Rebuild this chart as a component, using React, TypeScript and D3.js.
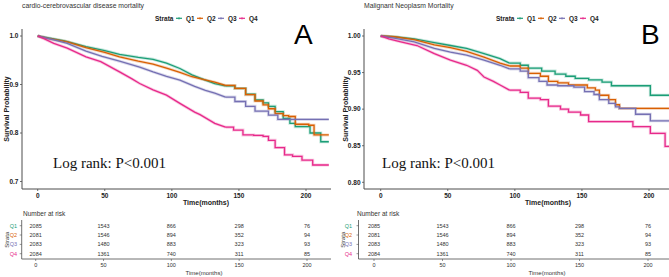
import React from "react";
import * as d3 from "d3";

const strata = ["Q1", "Q2", "Q3", "Q4"];
const colors = ["#1B9E77", "#D95F02", "#7570B3", "#E7298A"];

// Panel A: cardio-cerebrovascular disease mortality
const aQ1t = [0, 8, 20, 36, 50, 61, 75, 86, 96, 106, 115, 124, 132, 140, 147, 155, 162, 168, 172, 177, 183, 188, 192, 203, 211, 217];
const aQ1s = [1, 0.996, 0.99, 0.978, 0.97, 0.962, 0.956, 0.952, 0.944, 0.933, 0.92, 0.91, 0.902, 0.897, 0.892, 0.88, 0.868, 0.862, 0.855, 0.844, 0.83, 0.82, 0.813, 0.8, 0.782, 0.782];
const aQ2t = [0, 8, 22, 36, 50, 61, 75, 86, 96, 106, 115, 124, 132, 140, 147, 155, 162, 168, 172, 177, 183, 187, 192, 202, 206, 217];
const aQ2s = [1, 0.995, 0.988, 0.976, 0.966, 0.957, 0.948, 0.942, 0.934, 0.925, 0.916, 0.91, 0.905, 0.898, 0.892, 0.879, 0.866, 0.858, 0.85, 0.84, 0.836, 0.834, 0.818, 0.816, 0.796, 0.796];
const aQ3t = [0, 12, 22, 36, 48, 61, 76, 86, 96, 106, 117, 125, 132, 140, 147, 155, 162, 172, 179, 217];
const aQ3s = [1, 0.992, 0.985, 0.969, 0.958, 0.948, 0.936, 0.926, 0.917, 0.909, 0.896, 0.888, 0.882, 0.874, 0.865, 0.855, 0.845, 0.837, 0.828, 0.828];
const aQ4t = [0, 5, 12, 22, 36, 47, 61, 70, 76, 86, 96, 106, 117, 121, 132, 140, 146, 153, 161, 168, 172, 177, 184, 190, 197, 205, 217];
const aQ4s = [1, 0.994, 0.985, 0.975, 0.957, 0.947, 0.926, 0.912, 0.902, 0.889, 0.878, 0.861, 0.843, 0.838, 0.82, 0.812, 0.806, 0.796, 0.795, 0.793, 0.785, 0.77, 0.755, 0.752, 0.744, 0.734, 0.734];

// Panel B: Malignant Neoplasm Mortality
const bQ1t = [0, 10, 25, 40, 52, 64, 77, 89, 96, 104, 110, 120, 130, 138, 145, 155, 165, 172, 190, 201, 217];
const bQ1s = [1, 0.999, 0.996, 0.991, 0.987, 0.983, 0.976, 0.969, 0.963, 0.96, 0.956, 0.952, 0.948, 0.945, 0.942, 0.94, 0.937, 0.932, 0.932, 0.919, 0.919];
const bQ2t = [0, 10, 25, 40, 52, 64, 77, 89, 96, 104, 110, 119, 125, 132, 140, 154, 160, 163, 170, 175, 178, 217];
const bQ2s = [1, 0.999, 0.995, 0.988, 0.984, 0.979, 0.971, 0.963, 0.959, 0.956, 0.949, 0.945, 0.938, 0.936, 0.933, 0.929, 0.926, 0.919, 0.913, 0.906, 0.901, 0.901];
const bQ3t = [0, 10, 25, 40, 52, 64, 77, 89, 96, 104, 110, 118, 124, 132, 144, 152, 159, 163, 170, 175, 178, 190, 201, 217];
const bQ3s = [1, 0.997, 0.992, 0.983, 0.978, 0.974, 0.967, 0.96, 0.955, 0.952, 0.943, 0.938, 0.933, 0.932, 0.93, 0.924, 0.92, 0.913, 0.908, 0.903, 0.901, 0.893, 0.884, 0.884];
const bQ4t = [0, 6, 15, 27, 40, 52, 64, 72, 77, 84, 89, 96, 104, 110, 119, 125, 134, 140, 149, 155, 188, 201, 212, 217];
const bQ4s = [1, 0.996, 0.992, 0.987, 0.976, 0.967, 0.96, 0.953, 0.944, 0.938, 0.933, 0.926, 0.923, 0.915, 0.913, 0.904, 0.9, 0.896, 0.892, 0.883, 0.876, 0.867, 0.849, 0.849];

const xTicks = [0, 50, 100, 150, 200];
const aYTicks = [0.7, 0.8, 0.9, 1.0];
const bYTicks = [0.8, 0.85, 0.9, 0.95, 1.0];

const riskTimes = [0, 50, 100, 150, 200];
const riskQ1 = [2085, 1543, 866, 298, 76];
const riskQ2 = [2081, 1546, 894, 352, 94];
const riskQ3 = [2083, 1480, 883, 323, 93];
const riskQ4 = [2084, 1361, 740, 311, 85];
const riskRows = [riskQ1, riskQ2, riskQ3, riskQ4];

const SANS = "'Liberation Sans', Arial, sans-serif";

type PanelCfg = {
  key: string;
  title: string;
  letter: string;
  yAxisX: number;
  plotRight: number;
  x0: number;
  x200: number;
  yDomain: [number, number];
  yRange: [number, number];
  yTicks: number[];
  yFmt: string;
  series: [number[], number[]][];
  stepFrom: number;
  legendX: number;
  letterX: number;
  logX: number;
  yTitleX: number;
  xTitleX: number;
  tAxisX: number;
  t0: number;
  t200: number;
  nX: number;
  rowLabelX: number;
  strataX: number;
  tTitleX: number;
};

const panels: PanelCfg[] = [
  {
    key: "A",
    title: "cardio-cerebrovascular disease mortality",
    letter: "A",
    yAxisX: 22,
    plotRight: 331,
    x0: 37.7,
    x200: 306,
    yDomain: [0.7, 1.0],
    yRange: [181.5, 36],
    yTicks: aYTicks,
    yFmt: ".1f",
    series: [[aQ1t, aQ1s], [aQ2t, aQ2s], [aQ3t, aQ3s], [aQ4t, aQ4s]],
    stepFrom: 140,
    legendX: 155,
    letterX: 294,
    logX: 53,
    yTitleX: 6,
    xTitleX: 206,
    tAxisX: 21.7,
    t0: 35.7,
    t200: 307,
    nX: 23,
    rowLabelX: 17,
    strataX: 7,
    tTitleX: 204,
  },
  {
    key: "B",
    title: "Malignant Neoplasm Mortality",
    letter: "B",
    yAxisX: 364,
    plotRight: 680,
    x0: 380.7,
    x200: 649,
    yDomain: [0.8, 1.0],
    yRange: [182.3, 36],
    yTicks: bYTicks,
    yFmt: ".2f",
    series: [[bQ1t, bQ1s], [bQ2t, bQ2s], [bQ3t, bQ3s], [bQ4t, bQ4s]],
    stepFrom: 96,
    legendX: 496,
    letterX: 641,
    logX: 382,
    yTitleX: 345,
    xTitleX: 548,
    tAxisX: 358.5,
    t0: 374,
    t200: 648,
    nX: 357,
    rowLabelX: 352,
    strataX: 343,
    tTitleX: 547,
  },
];

const PLOT_TOP = 29;
const PLOT_BOTTOM = 189;
const AXIS = "#4d4d4d";
const rowY = [225.7, 235, 244.4, 253.7];
const T_AXIS_Y = 259;

function Panel({ p }: { p: PanelCfg }) {
  const x = d3.scaleLinear().domain([0, 200]).range([p.x0, p.x200]);
  const y = d3.scaleLinear().domain(p.yDomain).range(p.yRange);
  const tx = d3.scaleLinear().domain([0, 200]).range([p.t0, p.t200]);
  const fmt = d3.format(p.yFmt);
  const smooth = d3
    .line<[number, number]>()
    .x((d) => x(d[0]))
    .y((d) => y(d[1]))
    .curve(d3.curveLinear);
  const stepped = d3
    .line<[number, number]>()
    .x((d) => x(d[0]))
    .y((d) => y(d[1]))
    .curve(d3.curveStepAfter);
  const clipId = "clip" + p.key;
  return (
    <g>
      <defs>
        <clipPath id={clipId}>
          <rect x={p.yAxisX} y={PLOT_TOP - 5} width={p.plotRight - p.yAxisX} height={PLOT_BOTTOM - PLOT_TOP + 5} />
        </clipPath>
      </defs>
      <text x={p.yAxisX} y={8} fontFamily={SANS} fontSize={6.8} fill="#333">
        {p.title}
      </text>
      {/* legend */}
      <g fontFamily={SANS} fontSize={6.5} fontWeight="bold" fill="#222">
        <text x={p.legendX} y={20.5}>Strata</text>
        {strata.map((s, i) => {
          const kx = p.legendX + 24 + i * 21;
          return (
            <g key={s}>
              <line x1={kx - 3} x2={kx + 3} y1={18.3} y2={18.3} stroke={colors[i]} strokeWidth={1.2} />
              <line x1={kx} x2={kx} y1={17} y2={19.6} stroke={colors[i]} strokeWidth={0.7} />
              <text x={kx + 7} y={20.5}>{s}</text>
            </g>
          );
        })}
      </g>
      <text x={p.letterX} y={44} fontFamily={SANS} fontSize={28} fill="#000">
        {p.letter}
      </text>
      {/* axes */}
      <line x1={p.yAxisX} x2={p.yAxisX} y1={PLOT_TOP} y2={PLOT_BOTTOM} stroke={AXIS} strokeWidth={1} />
      <line x1={p.yAxisX} x2={p.plotRight} y1={PLOT_BOTTOM} y2={PLOT_BOTTOM} stroke={AXIS} strokeWidth={1} />
      {p.yTicks.map((t) => (
        <g key={t}>
          <line x1={p.yAxisX - 2} x2={p.yAxisX} y1={y(t)} y2={y(t)} stroke={AXIS} strokeWidth={0.8} />
          <text x={p.yAxisX - 3.5} y={y(t) + 2.3} textAnchor="end" fontFamily={SANS} fontSize={6.5} fontWeight="bold" fill="#222">
            {fmt(t)}
          </text>
        </g>
      ))}
      {xTicks.map((t) => (
        <g key={t}>
          <line x1={x(t)} x2={x(t)} y1={PLOT_BOTTOM} y2={PLOT_BOTTOM + 2} stroke={AXIS} strokeWidth={0.8} />
          <text x={x(t)} y={197.5} textAnchor="middle" fontFamily={SANS} fontSize={6.5} fontWeight="bold" fill="#222">
            {t}
          </text>
        </g>
      ))}
      <text x={p.xTitleX} y={205.3} textAnchor="middle" fontFamily={SANS} fontSize={7} fontWeight="bold" fill="#222">
        Time(months)
      </text>
      <text
        transform={`translate(${p.yTitleX + 2.5},${(PLOT_TOP + PLOT_BOTTOM) / 2}) rotate(-90)`}
        textAnchor="middle"
        fontFamily={SANS}
        fontSize={7}
        fontWeight="bold"
        fill="#222"
      >
        Survival Probability
      </text>
      {/* curves */}
      <g clipPath={`url(#${clipId})`}>
        {p.series.map(([ts, ss], i) => {
          const pts = ts.map((t, j) => [t, ss[j]] as [number, number]);
          const early = pts.filter((d) => d[0] <= p.stepFrom);
          const late = pts.filter((d) => d[0] >= early[early.length - 1][0]);
          const d = (smooth(early) || "") + (stepped(late) || "");
          return (
            <g key={i}>
              <path d={d} fill="none" stroke={colors[i]} strokeWidth={3} strokeOpacity={0.25} />
              <path d={d} fill="none" stroke={colors[i]} strokeWidth={1.3} />
            </g>
          );
        })}
      </g>
      <text x={p.logX} y={168} fontFamily="'Liberation Serif', 'Times New Roman', serif" fontSize={15} fill="#111">
        Log rank: P&lt;0.001
      </text>
      {/* risk table */}
      <text x={p.nX} y={216} fontFamily={SANS} fontSize={6.5} fill="#333">
        Number at risk
      </text>
      <line x1={p.tAxisX} x2={p.tAxisX} y1={220} y2={T_AXIS_Y} stroke={AXIS} strokeWidth={0.8} />
      <line x1={p.tAxisX} x2={p.plotRight} y1={T_AXIS_Y} y2={T_AXIS_Y} stroke={AXIS} strokeWidth={0.8} />
      {strata.map((s, i) => (
        <g key={s}>
          <line x1={p.tAxisX - 2} x2={p.tAxisX} y1={rowY[i]} y2={rowY[i]} stroke={AXIS} strokeWidth={0.6} />
          <text x={p.rowLabelX} y={rowY[i] + 2} textAnchor="end" fontFamily={SANS} fontSize={5.5} fill={colors[i]}>
            {s}
          </text>
          {riskRows[i].map((n, j) => (
            <text key={j} x={tx(riskTimes[j])} y={rowY[i] + 2} textAnchor="middle" fontFamily={SANS} fontSize={5.5} fill="#333">
              {n}
            </text>
          ))}
        </g>
      ))}
      <text
        transform={`translate(${p.strataX + 2},${(rowY[0] + rowY[3]) / 2}) rotate(-90)`}
        textAnchor="middle"
        fontFamily={SANS}
        fontSize={6}
        fill="#333"
      >
        Strata
      </text>
      {riskTimes.map((t) => (
        <g key={t}>
          <line x1={tx(t)} x2={tx(t)} y1={T_AXIS_Y} y2={T_AXIS_Y + 2} stroke={AXIS} strokeWidth={0.6} />
          <text x={tx(t)} y={267} textAnchor="middle" fontFamily={SANS} fontSize={5.5} fill="#333">
            {t}
          </text>
        </g>
      ))}
      <text x={p.tTitleX} y={274.5} textAnchor="middle" fontFamily={SANS} fontSize={6} fill="#333">
        Time(months)
      </text>
    </g>
  );
}

export default function App() {
  return (
    <svg
      width={669}
      height={277}
      style={{ position: "absolute", left: 0, top: 0, background: "#fff" }}
    >
      <rect width={669} height={277} fill="#fff" />
      {panels.map((p) => (
        <Panel key={p.key} p={p} />
      ))}
    </svg>
  );
}
